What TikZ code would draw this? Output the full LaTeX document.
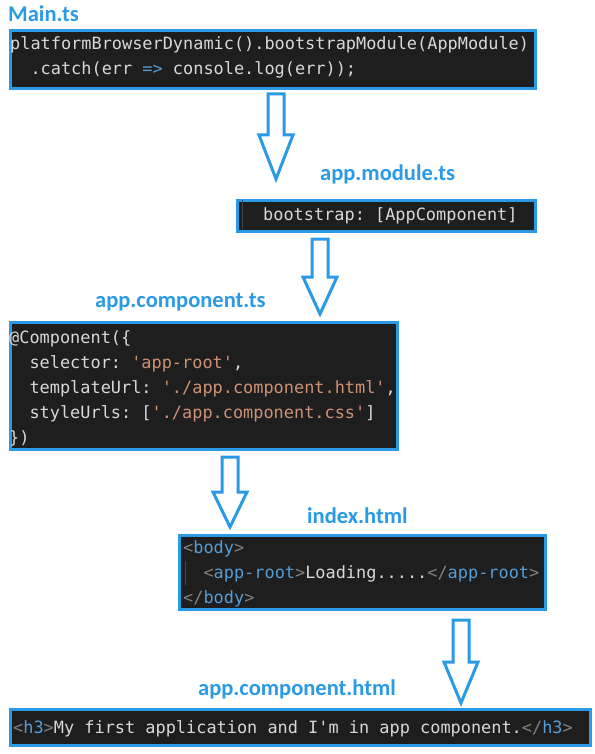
\documentclass[tikz,border=0pt]{standalone}
\usepackage{fontspec}
\setmonofont{DejaVu Sans Mono}
\newfontfamily\headfont{Carlito}
\usetikzlibrary{calc}

% editor-like palette
\definecolor{accent}{HTML}{2B9AE6}
\definecolor{editorbg}{HTML}{1E1E1E}
\definecolor{plain}{HTML}{D8D8D8}
\definecolor{strlit}{HTML}{CE9178}
\definecolor{kw}{HTML}{569CD6}
\definecolor{punct}{HTML}{808080}
\definecolor{guide}{HTML}{454545}

% syntax colouring helpers
\newcommand{\strlit}[1]{\textcolor{strlit}{#1}}
\newcommand{\kwd}[1]{\textcolor{kw}{#1}}
\newcommand{\opentag}[1]{\textcolor{punct}{<}\textcolor{kw}{#1}\textcolor{punct}{>}}
\newcommand{\closetag}[1]{\textcolor{punct}{</}\textcolor{kw}{#1}\textcolor{punct}{>}}
\newcommand{\ind}{\phantom{xx}}

\tikzset{
  codebox/.style={draw=accent, line width=3, fill=editorbg, inner sep=0,
    anchor=north west},
  codeline/.style={anchor=base west, inner sep=0, text=plain,
    font=\ttfamily\fontsize{16.9}{25}\selectfont},
  filename/.style={anchor=mid west, inner sep=0, text=accent,
    font=\headfont\bfseries\fontsize{22.5}{26}\selectfont},
  hollowarrow/.style={draw=accent, line width=3, fill=white},
  indentguide/.style={draw=guide, line width=1},
  pics/downarrow/.style 2 args={code={
    \draw[hollowarrow] (-8,0) -- (8,0) -- (8,#1) -- (17,#1) -- (0,#2)
      -- (-17,#1) -- (-8,#1) -- cycle;
  }}
}

\begin{document}
\begin{tikzpicture}[x=1pt, y=-1pt]
\useasboundingbox[fill=white] (0,0) rectangle (594,754);

% --- Main.ts
\node[filename] (mainname) at (8,19) {Main.ts};
\node[codebox, minimum width=525, minimum height=58] (mainbox) at (8.5,29.5) {};
\node[codeline] (main1) at (10,50) {platformBrowserDynamic().bootstrapModule(AppModule)};
\node[codeline] (main2) at (10,75) {\ind.catch(err \kwd{=>} console.log(err));};

\pic (arrowA) at (276,94) {downarrow={41}{85}};

% --- app.module.ts
\node[filename] (modname) at (320,178) {app.module.ts};
\node[codebox, minimum width=298, minimum height=31] (modbox) at (235.5,198.5) {};
\draw[indentguide] (242,200) -- (242,229);
\node[codeline] (mod1) at (263,220) {bootstrap: [AppComponent]};

\pic (arrowB) at (320,239) {downarrow={38}{75}};

% --- app.component.ts
\node[filename] (compname) at (95,305) {app.component.ts};
\node[codebox, minimum width=387, minimum height=127] (compbox) at (8.5,320.5) {};
\node[codeline] (comp1) at (9,343) {@Component(\{};
\node[codeline] (comp2) at (9,368) {\ind selector: \strlit{'app-root'},};
\node[codeline] (comp3) at (9,393) {\ind templateUrl: \strlit{'./app.component.html'},};
\node[codeline] (comp4) at (9,418) {\ind styleUrls: [\strlit{'./app.component.css'}]};
\node[codeline] (comp5) at (9,443) {\})};

\pic (arrowC) at (230,457) {downarrow={35}{70}};

% --- index.html
\node[filename] (idxname) at (307,521) {index.html};
\node[codebox, minimum width=366, minimum height=74] (idxbox) at (177.5,533.5) {};
\draw[indentguide] (185,561) -- (185,585);
\node[codeline] (idx1) at (183,553) {\opentag{body}};
\node[codeline] (idx2) at (183,578) {\ind\opentag{app-root}Loading.....\closetag{app-root}};
\node[codeline] (idx3) at (183,603) {\closetag{body}};

\pic (arrowD) at (461,620) {downarrow={42}{83}};

% --- app.component.html
\node[filename] (tplname) at (198,693) {app.component.html};
\node[codebox, minimum width=580, minimum height=36] (tplbox) at (8.5,707.5) {};
\node[codeline] (tpl1) at (13,733) {\opentag{h3}My first application and I'm in app component.\closetag{h3}};
\end{tikzpicture}
\end{document}
